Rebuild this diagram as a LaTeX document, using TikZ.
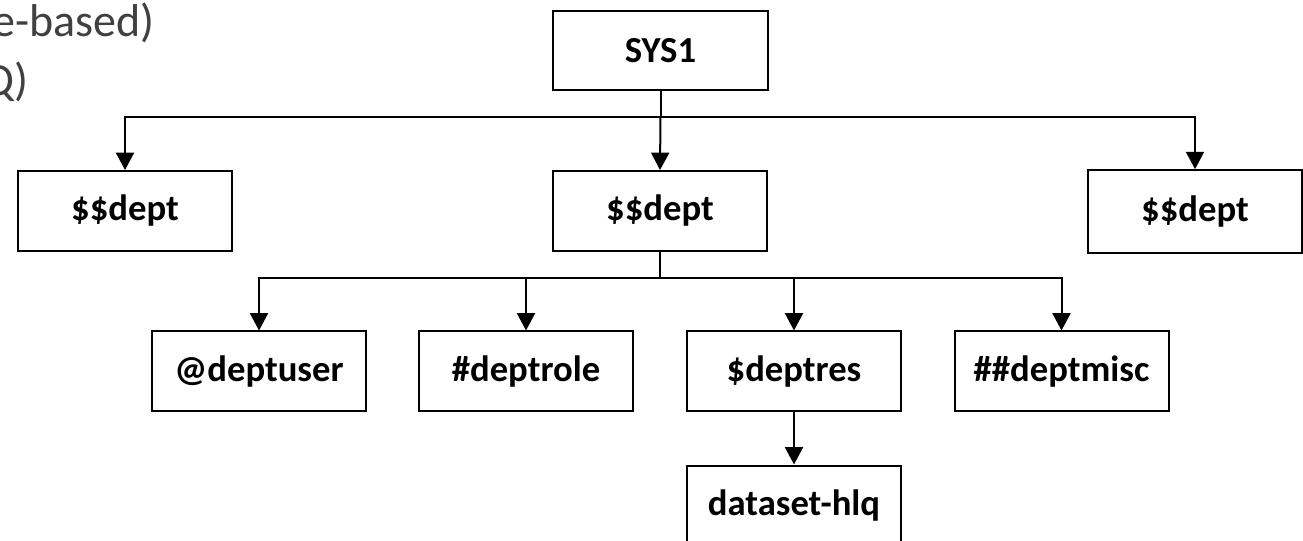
\documentclass[tikz,border=0pt]{standalone}
\usepackage{fontspec}
\setmainfont{Carlito}
\usetikzlibrary{arrows.meta}
\definecolor{bggrey}{HTML}{404040}
\begin{document}
\begin{tikzpicture}[x=0.75pt,y=-0.75pt,
  box/.style={draw=black, line width=1.5pt, minimum width=160.5pt, minimum height=60pt, inner sep=0pt,
    font=\fontsize{27.5}{32}\selectfont\bfseries},
  conn/.style={line width=1.5pt},
  arr/.style={conn, -{Triangle[width=13.5pt,length=13pt]}},
  bgtext/.style={text=bggrey, font=\fontsize{34.5}{40}\selectfont, inner sep=0pt, anchor=base east}
]
\useasboundingbox (0,0) rectangle (1303,541);
\clip (0,0) rectangle (1303,541);

\node[bgtext] (t1) at (155,37) {e-based)};
\node[bgtext] (t2) at (29,96) {Q)};

\node[box, minimum width=161pt, minimum height=59pt] (sys) at (660.5,50.5) {SYS1};
\node[box] (d1) at (125,211) {\$\$dept};
\node[box] (d2) at (660,211) {\$\$dept};
\node[box, minimum height=62pt] (d3) at (1195,211.5) {\$\$dept};

\node[box] (user) at (259,371.5) {@deptuser};
\node[box] (role) at (526,371.5) {\#deptrole};
\node[box] (res) at (794,371.5) {\$deptres};
\node[box] (misc) at (1061.5,371.5) {\#\#deptmisc};
\node[box] (hlq) at (794,505.5) {dataset-hlq};

\coordinate (j1) at (660.5,117);
\draw[conn] (sys.south) -- (j1);
\draw[arr] (j1) -| (d1.north);
\draw[arr] (j1) -| (d3.north);
\draw[arr] (j1) -- (d2.north);

\coordinate (j2) at (660,278);
\draw[conn] (d2.south) -- (j2);
\draw[arr] (j2) -| (user.north);
\draw[arr] (j2) -| (role.north);
\draw[arr] (j2) -| (res.north);
\draw[arr] (j2) -| (misc.north);

\draw[arr] (res.south) -- (hlq.north);
\end{tikzpicture}
\end{document}
